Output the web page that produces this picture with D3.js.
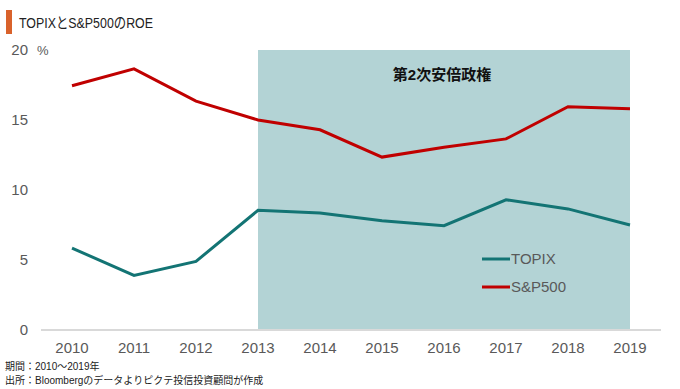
<!DOCTYPE html>
<html><head><meta charset="utf-8">
<script src="https://cdn.jsdelivr.net/npm/d3@7"></script>
<style>body{margin:0;background:#fff}svg{display:block}text{font-family:"Liberation Sans Narrow","Liberation Sans","Noto Sans CJK JP",sans-serif}</style>
</head><body>
<script>
const years = ["2010","2011","2012","2013","2014","2015","2016","2017","2018","2019"];
const topix = [5.85, 3.9, 4.9, 8.55, 8.35, 7.8, 7.45, 9.3, 8.65, 7.5];
const sp500 = [17.45, 18.65, 16.35, 15.0, 14.3, 12.35, 13.05, 13.65, 15.95, 15.8];
const yTicks = [0, 5, 10, 15, 20];
const seriesNames = ["TOPIX", "S&P500"];
const shadeRange = ["2013", "2019"];

const W = 680, H = 389;
const svg = d3.select("body").append("svg").attr("width", W).attr("height", H);
const x = d3.scaleBand().domain(years).range([41, 661]);
const xc = d => x(d) + x.bandwidth() / 2;
const y = d3.scaleLinear().domain([0, 20]).range([330, 50]);

// title
svg.append("rect").attr("x", 6).attr("y", 10).attr("width", 6).attr("height", 24).attr("fill", "#d9622b");
svg.append("text").attr("x", 19).attr("y", 28).attr("font-size", 15).attr("fill", "#222")
  .attr("textLength", 134).attr("lengthAdjust", "spacingAndGlyphs").text("TOPIXとS&P500のROE");

// shaded region
svg.append("rect").attr("x", xc(shadeRange[0])).attr("y", y(20))
  .attr("width", xc(shadeRange[1]) - xc(shadeRange[0])).attr("height", y(0) - y(20))
  .attr("fill", "#b3d3d5");
svg.append("text").attr("x", (xc(shadeRange[0]) + xc(shadeRange[1])) / 2 - 2).attr("y", 80)
  .attr("text-anchor", "middle").attr("font-size", 15).attr("font-weight", "bold").attr("fill", "#111")
  .text("第2次安倍政権");

// baseline
svg.append("line").attr("x1", 41).attr("x2", 661).attr("y1", y(0)).attr("y2", y(0))
  .attr("stroke", "#d9d9d9").attr("stroke-width", 2);

// y axis labels
const yAxis = svg.append("g").attr("transform", "translate(28,0)")
  .call(d3.axisLeft(y).tickValues(yTicks).tickSize(0).tickPadding(0));
yAxis.select(".domain").remove();
yAxis.selectAll("text").attr("font-size", 15).attr("fill", "#595959").attr("font-family", null);
svg.append("text").attr("x", 37).attr("y", y(20) + 5).attr("font-size", 13).attr("fill", "#595959").text("%");

// x axis labels
const xAxis = svg.append("g").attr("transform", `translate(0,${y(0) + 8})`)
  .call(d3.axisBottom(x).tickSize(0).tickPadding(4));
xAxis.select(".domain").remove();
xAxis.selectAll("text").attr("font-size", 15).attr("fill", "#595959").attr("font-family", null);

// lines
const line = d3.line().x((d, i) => xc(years[i])).y(d => y(d));
svg.append("path").datum(topix).attr("d", line).attr("fill", "none").attr("stroke", "#137474").attr("stroke-width", 3);
svg.append("path").datum(sp500).attr("d", line).attr("fill", "none").attr("stroke", "#c00000").attr("stroke-width", 3);

// legend
const colors = ["#137474", "#c00000"];
seriesNames.forEach((n, i) => {
  const ly = 259 + i * 28;
  svg.append("line").attr("x1", 482).attr("x2", 510).attr("y1", ly).attr("y2", ly).attr("stroke", colors[i]).attr("stroke-width", 3);
  svg.append("text").attr("x", 511).attr("y", ly + 5).attr("font-size", 15).attr("fill", "#595959").text(n);
});

// footnotes
svg.append("text").attr("x", 5).attr("y", 370).attr("font-size", 10).attr("fill", "#222").text("期間：2010～2019年");
svg.append("text").attr("x", 5).attr("y", 384).attr("font-size", 10).attr("fill", "#222").text("出所：Bloombergのデータよりピクテ投信投資顧問が作成");
</script>
</body></html>
